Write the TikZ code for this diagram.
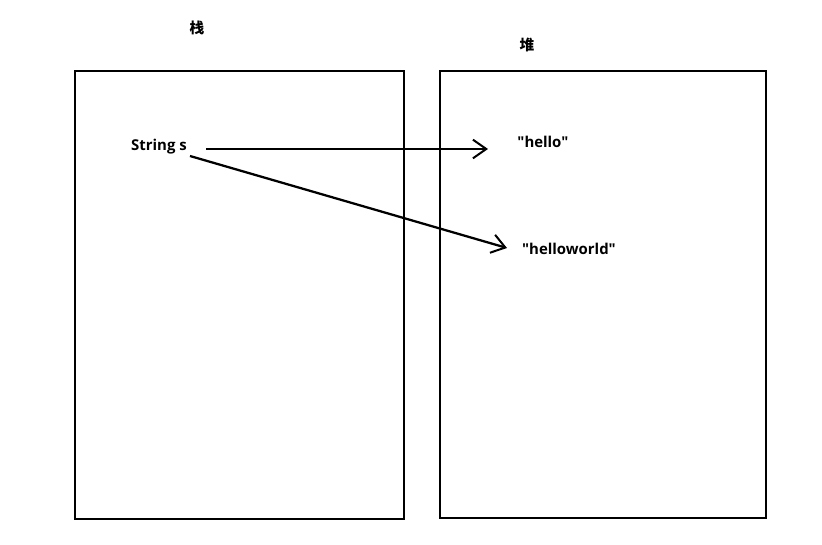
\documentclass[tikz,border=0pt]{standalone}
\usepackage{fontspec}
\setmainfont{Open Sans}
\newfontfamily\cjk{Noto Sans CJK SC}
\usetikzlibrary{arrows.meta}

\tikzset{
  memblock/.style={draw, line width=2pt},
  reflabel/.style={inner sep=0.75pt, font=\fontsize{11.2}{13}\selectfont\bfseries},
  areatitle/.style={inner sep=0.75pt, font=\fontsize{11}{13}\selectfont\cjk\bfseries},
  refarrow/.style={line width=1.7pt, -{Straight Barb[length=10pt, width=14pt, line width=1.5pt]}}
}
\newcommand{\qq}[1]{\textquotedbl#1\textquotedbl}

\begin{document}
\begin{tikzpicture}[x=0.75pt,y=0.75pt,yscale=-1]
        \useasboundingbox (0,0) rectangle (822,545);

        %Shape: Rectangle [stack]
        \draw[memblock] (75,71) rectangle (404,519);
        %Shape: Rectangle [heap]
        \draw[memblock] (440,71) rectangle (766,518);

        % Text Node
        \draw (197,28) node [areatitle] (stack) {栈};
        % Text Node
        \draw (527,45) node [areatitle] (heap) {堆};
        % Text Node
        \draw (159,147) node [reflabel] (str) {String s};
        % Text Node
        \draw (543,142) node [reflabel] (hello) {\qq{hello}};
        % Text Node
        \draw (569,249) node [reflabel] (helloworld) {\qq{helloworld}};

        %Straight Lines [reference]
        \coordinate (refA) at (206,149);
        \coordinate (refB) at (190,156);
        \coordinate (tipA) at (488,149);
        \coordinate (tipB) at (507,248);
        \draw[refarrow] (refA) -- (tipA);
        \draw[refarrow] (refB) -- (tipB);
\end{tikzpicture}
\end{document}
